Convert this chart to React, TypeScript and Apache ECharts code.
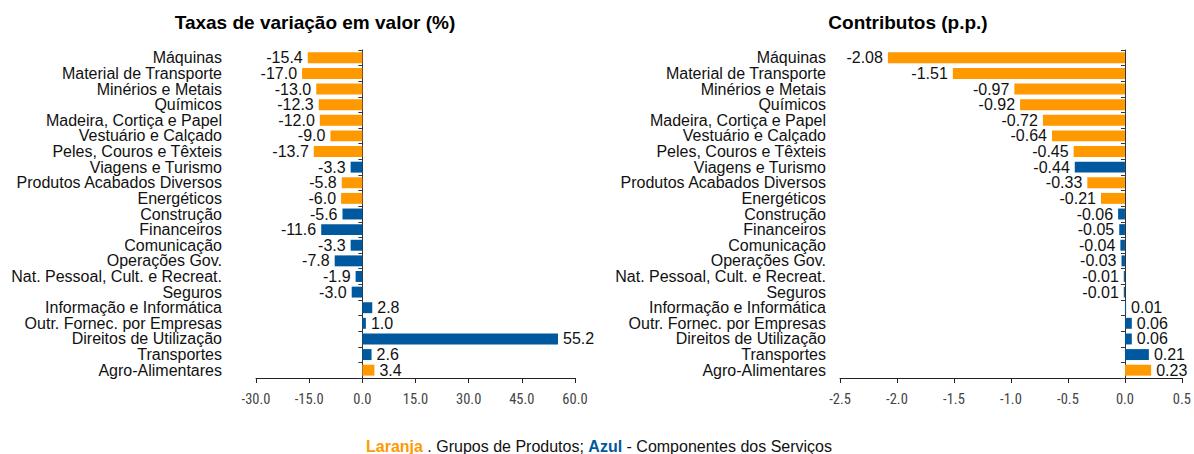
import React, { useEffect, useRef } from "react";
import * as echarts from "echarts";

const categories = [
  "Máquinas",
  "Material de Transporte",
  "Minérios e Metais",
  "Químicos",
  "Madeira, Cortiça e Papel",
  "Vestuário e Calçado",
  "Peles, Couros e Têxteis",
  "Viagens e Turismo",
  "Produtos Acabados Diversos",
  "Energéticos",
  "Construção",
  "Financeiros",
  "Comunicação",
  "Operações Gov.",
  "Nat. Pessoal, Cult. e Recreat.",
  "Seguros",
  "Informação e Informática",
  "Outr. Fornec. por Empresas",
  "Direitos de Utilização",
  "Transportes",
  "Agro-Alimentares",
];

// P = Grupos de Produtos (laranja), S = Componentes dos Serviços (azul)
const groups = [
  "P", "P", "P", "P", "P", "P", "P", "S", "P", "P", "S",
  "S", "S", "S", "S", "S", "S", "S", "S", "S", "P",
];

const variationValues = [
  -15.4, -17.0, -13.0, -12.3, -12.0, -9.0, -13.7, -3.3, -5.8, -6.0, -5.6,
  -11.6, -3.3, -7.8, -1.9, -3.0, 2.8, 1.0, 55.2, 2.6, 3.4,
];

const contributionValues = [
  -2.08, -1.51, -0.97, -0.92, -0.72, -0.64, -0.45, -0.44, -0.33, -0.21, -0.06,
  -0.05, -0.04, -0.03, -0.01, -0.01, 0.01, 0.06, 0.06, 0.21, 0.23,
];

const leftTicks = { min: -30, max: 60, interval: 15 };
const rightTicks = { min: -2.5, max: 0.5, interval: 0.5 };

const ORANGE = "#FF9900";
const BLUE = "#00589E";
const FONT = "'Liberation Sans', Arial, Helvetica, sans-serif";
const NARROW = "'Liberation Sans Narrow', 'Arial Narrow', 'Roboto Condensed', 'Liberation Sans', sans-serif";

function buildData(values: number[], decimals: number) {
  return values.map((v, i) => ({
    value: v,
    itemStyle: { color: groups[i] === "P" ? ORANGE : BLUE },
    label: {
      show: true,
      position: v < 0 ? "left" : "right",
      distance: 5,
      formatter: () => v.toFixed(decimals),
    },
  }));
}

export default function App() {
  const ref = useRef<HTMLDivElement>(null);

  useEffect(() => {
    if (!ref.current) return;
    const chart = echarts.init(ref.current, undefined, { renderer: "svg" });

    const grids = [
      { left: 256, width: 319, top: 50, height: 328 },
      { left: 840, width: 343, top: 50, height: 328 },
    ];

    const xAxisCommon = (t: { min: number; max: number; interval: number }, gi: number, dec: number) => ({
      type: "value",
      gridIndex: gi,
      min: t.min,
      max: t.max,
      interval: t.interval,
      splitLine: { show: false },
      axisLine: { show: true, onZero: false, lineStyle: { color: "#222", width: 1 } },
      axisTick: { show: true, length: 5, lineStyle: { color: "#222" } },
      axisLabel: {
        margin: 14,
        color: "#444",
        fontSize: 14.5,
        fontFamily: NARROW,
        formatter: (v: number) => v.toFixed(dec),
      },
    });

    const labelAxis = (gi: number, margin: number) => ({
      type: "category",
      gridIndex: gi,
      data: categories,
      inverse: true,
      position: "left",
      axisLine: { show: false, onZero: false },
      axisTick: { show: false },
      axisLabel: {
        margin,
        color: "#111",
        fontSize: 16,
        fontFamily: FONT,
        interval: 0,
      },
    });

    const lineAxis = (gi: number) => ({
      type: "category",
      gridIndex: gi,
      data: categories,
      inverse: true,
      position: "right",
      axisLine: { show: true, onZero: true, lineStyle: { color: "#333", width: 1 } },
      axisTick: { show: true, inside: true, length: 4, lineStyle: { color: "#333" } },
      axisLabel: { show: false },
    });

    const labelStyle = { color: "#111", fontSize: 16, fontFamily: FONT };

    chart.setOption({
      animation: false,
      backgroundColor: "#ffffff",
      grid: grids,
      xAxis: [xAxisCommon(leftTicks, 0, 1), xAxisCommon(rightTicks, 1, 1)],
      yAxis: [labelAxis(0, 34), lineAxis(0), labelAxis(1, 14), lineAxis(1)],
      series: [
        {
          type: "bar",
          xAxisIndex: 0,
          yAxisIndex: 0,
          data: buildData(variationValues, 1),
          barCategoryGap: "30%",
          label: labelStyle,
        },
        {
          type: "bar",
          xAxisIndex: 1,
          yAxisIndex: 2,
          data: buildData(contributionValues, 2),
          barCategoryGap: "30%",
          label: labelStyle,
        },
      ],
      graphic: [
        {
          type: "text",
          x: 315,
          y: 22,
          style: {
            text: "Taxas de variação em valor (%)",
            align: "center",
            verticalAlign: "middle",
            fontSize: 19,
            fontWeight: "bold",
            fontFamily: FONT,
            fill: "#000",
          },
        },
        {
          type: "text",
          x: 908,
          y: 22,
          style: {
            text: "Contributos (p.p.)",
            align: "center",
            verticalAlign: "middle",
            fontSize: 19,
            fontWeight: "bold",
            fontFamily: FONT,
            fill: "#000",
          },
        },
        {
          type: "text",
          x: 599,
          y: 446,
          style: {
            text: "{o|Laranja} . Grupos de Produtos; {b|Azul} - Componentes dos Serviços",
            align: "center",
            verticalAlign: "middle",
            fontSize: 16,
            fontFamily: FONT,
            fill: "#111",
            rich: {
              o: { fill: ORANGE, fontWeight: "bold", fontSize: 16, fontFamily: FONT },
              b: { fill: BLUE, fontWeight: "bold", fontSize: 16, fontFamily: FONT },
            },
          },
        },
      ],
    });

    return () => chart.dispose();
  }, []);

  return (
    <div
      ref={ref}
      style={{ position: "absolute", left: 0, top: 0, width: 1194, height: 454 }}
    />
  );
}
